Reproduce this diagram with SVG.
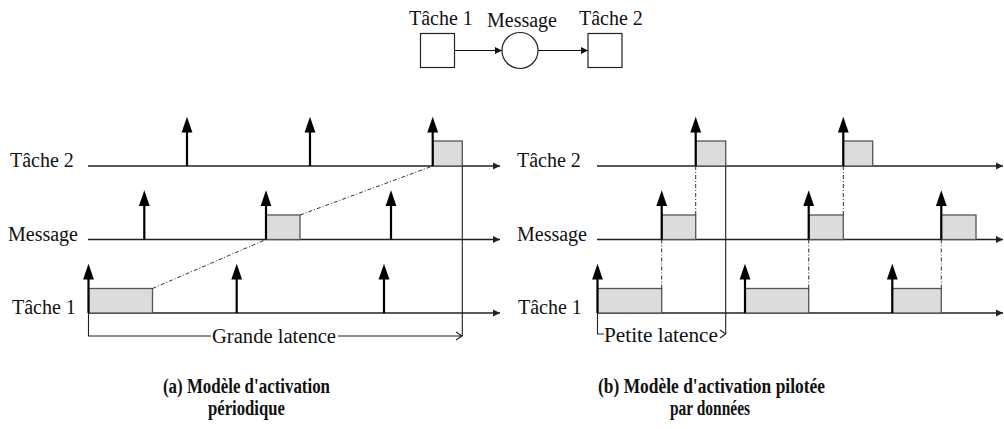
<svg xmlns="http://www.w3.org/2000/svg" xmlns:xlink="http://www.w3.org/1999/xlink" width="1004" height="429" viewBox="0 0 1004 429">
<style>
text{font-family:'Liberation Serif','DejaVu Serif',serif;font-size:20px;fill:#111}
.cap{font-weight:bold}
.node{fill:#fff;stroke:#222;stroke-width:1.2}
.axis{stroke:#222;stroke-width:1.3;fill:none}
.job{fill:#dcdcdc;stroke:#555;stroke-width:1.3}
.dd{stroke:#333;stroke-width:1;stroke-dasharray:4 2 1 2;fill:none}
.lat{stroke:#222;stroke-width:1.1;fill:none}
.act line{stroke:#000;stroke-width:2.2}
.act polygon{fill:#000}
</style>
<defs>
<marker id="ah" markerWidth="8" markerHeight="8" refX="7" refY="4" orient="auto" markerUnits="userSpaceOnUse"><path d="M0,0.5 L7,4 L0,7.5 Z" fill="#222"/></marker>
<marker id="sa" markerWidth="8" markerHeight="8" refX="7" refY="4" orient="auto" markerUnits="userSpaceOnUse"><path d="M0,0.5 L7,4 L0,7.5 Z" fill="#111"/></marker>
<g id="act" class="act"><line x1="0" y1="0" x2="0" y2="-35"/><polygon points="-5.4,-33.5 5.4,-33.5 0,-49.3"/></g>
</defs>

<!-- top model graph -->
<g id="top-tache1"><rect class="node" x="420.5" y="33.5" width="34" height="34"/><text x="409" y="25" font-family="Liberation Serif, serif">Tâche 1</text></g>
<g id="top-message"><circle class="node" cx="520" cy="50.5" r="18"/><text x="487" y="27" font-family="Liberation Serif, serif">Message</text></g>
<g id="top-tache2"><rect class="node" x="588" y="33.5" width="34" height="34"/><text x="579" y="25" font-family="Liberation Serif, serif">Tâche 2</text></g>
<g id="top-connectors">
<line x1="454.5" y1="50.5" x2="502" y2="50.5" stroke="#111" stroke-width="1.2" marker-end="url(#sa)"/>
<line x1="538" y1="50.5" x2="588" y2="50.5" stroke="#111" stroke-width="1.2" marker-end="url(#sa)"/>
</g>

<!-- (a) periodic -->
<g id="panel-a">
<text x="10" y="167">Tâche 2</text>
<text x="8" y="241">Message</text>
<text x="12" y="314">Tâche 1</text>
<line class="axis" x1="88" y1="166" x2="500" y2="166" marker-end="url(#ah)"/>
<line class="axis" x1="88" y1="239.5" x2="500" y2="239.5" marker-end="url(#ah)"/>
<line class="axis" x1="88" y1="313" x2="500" y2="313" marker-end="url(#ah)"/>
<rect class="job" x="88.5" y="288.5" width="64" height="24.5"/>
<rect class="job" x="266" y="215" width="34" height="24.5"/>
<rect class="job" x="432.7" y="141" width="29.6" height="25"/>
<line class="dd" x1="152.5" y1="288.5" x2="266" y2="239.5"/>
<line class="dd" x1="300" y1="215" x2="432.7" y2="166"/>
<use xlink:href="#act" x="88.5" y="313"/>
<use xlink:href="#act" x="236.7" y="313"/>
<use xlink:href="#act" x="384" y="313"/>
<use xlink:href="#act" x="144.3" y="239.5"/>
<use xlink:href="#act" x="266" y="239.5"/>
<use xlink:href="#act" x="391" y="239.5"/>
<use xlink:href="#act" x="187" y="166"/>
<use xlink:href="#act" x="310" y="166"/>
<use xlink:href="#act" x="432.7" y="166"/>
<path class="lat" d="M88.5,313 V336 H211 M338,336 H462 M462.3,166 V336 M456,332 L462,336 L456,340"/>
<text x="212" y="343" textLength="124" lengthAdjust="spacingAndGlyphs">Grande latence</text>
<text class="cap" x="163" y="393" textLength="167" lengthAdjust="spacingAndGlyphs">(a) Modèle d'activation</text>
<text class="cap" x="208" y="415" textLength="77" lengthAdjust="spacingAndGlyphs">périodique</text>
</g>

<!-- (b) data-driven -->
<g id="panel-b">
<text x="517" y="167">Tâche 2</text>
<text x="517" y="241">Message</text>
<text x="518" y="314">Tâche 1</text>
<line class="axis" x1="597" y1="166" x2="1003" y2="166" marker-end="url(#ah)"/>
<line class="axis" x1="597" y1="239.5" x2="1003" y2="239.5" marker-end="url(#ah)"/>
<line class="axis" x1="597" y1="313" x2="1003" y2="313" marker-end="url(#ah)"/>
<rect class="job" x="597.5" y="288.5" width="64.2" height="24.5"/>
<rect class="job" x="745" y="288.5" width="63.7" height="24.5"/>
<rect class="job" x="892.3" y="288.5" width="49" height="24.5"/>
<rect class="job" x="661.7" y="215" width="34" height="24.5"/>
<rect class="job" x="808.7" y="215" width="34.6" height="24.5"/>
<rect class="job" x="941.3" y="215" width="34.7" height="24.5"/>
<rect class="job" x="695.7" y="141" width="30" height="25"/>
<rect class="job" x="843.3" y="141" width="29.4" height="25"/>
<line class="dd" x1="661.7" y1="288.5" x2="661.7" y2="239.5"/>
<line class="dd" x1="695.7" y1="215" x2="695.7" y2="166"/>
<line class="dd" x1="808.7" y1="288.5" x2="808.7" y2="239.5"/>
<line class="dd" x1="843.3" y1="215" x2="843.3" y2="166"/>
<line class="dd" x1="941.3" y1="288.5" x2="941.3" y2="239.5"/>
<use xlink:href="#act" x="597.5" y="313"/>
<use xlink:href="#act" x="745" y="313"/>
<use xlink:href="#act" x="892.3" y="313"/>
<use xlink:href="#act" x="661.7" y="239.5"/>
<use xlink:href="#act" x="808.7" y="239.5"/>
<use xlink:href="#act" x="941.3" y="239.5"/>
<use xlink:href="#act" x="695.7" y="166"/>
<use xlink:href="#act" x="843.3" y="166"/>
<path class="lat" d="M597.5,313 V334 H604 M725.7,166 V334 M720,330 L725.7,334 L720,338"/>
<text x="604" y="342" textLength="114" lengthAdjust="spacingAndGlyphs">Petite latence</text>
<text class="cap" x="598" y="393" textLength="227" lengthAdjust="spacingAndGlyphs">(b) Modèle d'activation pilotée</text>
<text class="cap" x="670" y="415" textLength="80" lengthAdjust="spacingAndGlyphs">par données</text>
</g>
</svg>
